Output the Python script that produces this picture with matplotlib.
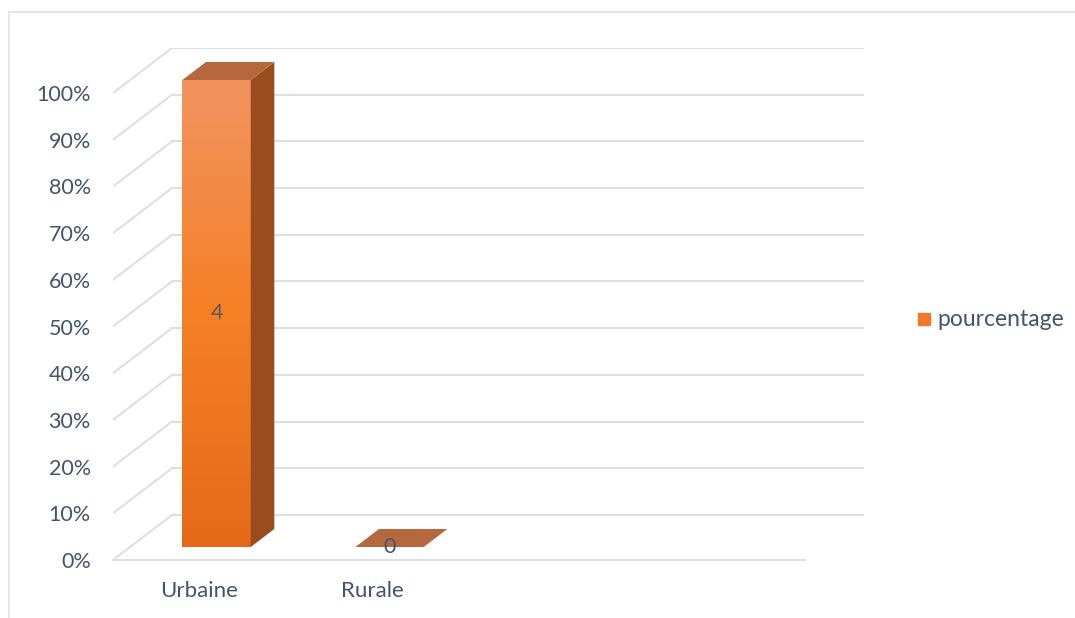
import numpy as np
import matplotlib.pyplot as plt
from matplotlib.patches import Polygon
from matplotlib.colors import LinearSegmentedColormap

categories = ['Urbaine', 'Rurale']
counts = [4, 0]
percents = [100, 0]
series_name = 'pourcentage'
yticks = list(range(0, 101, 10))
n_slots = 4  # excel keeps 4 category slots on the floor

plt.rcParams['font.family'] = ['Lato', 'DejaVu Sans']
txt_col = '#44546A'
grid_col = '#DCE0E5'

# fake 3d: depth offset in data units
dx, dy = 0.341, 9.64
f_front, f_back = 0.289, 0.689
bar_w = 0.395

fig = plt.figure(figsize=(10.75, 6.18), dpi=100)
# outer chart border
fig.add_artist(plt.Line2D([9/1075, 9/1075], [0, 1 - 12/618], color='#E3E6EA', lw=1.5))
fig.add_artist(plt.Line2D([9/1075, 1], [1 - 12/618, 1 - 12/618], color='#E3E6EA', lw=1.5))

ax = fig.add_axes([113/1075, 58/618, 751/1075, 512/618])
ax.set_xlim(0, n_slots + dx)
ax.set_ylim(0, 100 + dy)
for s in ax.spines.values():
    s.set_visible(False)

# back wall + side wall grid
for v in yticks:
    ax.plot([dx, n_slots + dx], [v + dy, v + dy], color=grid_col, lw=1.5, zorder=1)
    ax.plot([0, dx], [v, v + dy], color=grid_col, lw=1.5, zorder=1)
ax.plot([0, n_slots], [0, 0], color=grid_col, lw=1.5, zorder=1, clip_on=False)

grad = LinearSegmentedColormap.from_list('g', ['#E5691A', '#F58026', '#F29460'])
top_col = '#B5683E'
side_col = '#9A4C1F'

for i, (cat, p, c) in enumerate(zip(categories, percents, counts)):
    x0 = i + 0.5 - bar_w / 2 + f_front * dx
    x1 = x0 + bar_w
    y0 = f_front * dy
    y1 = y0 + p
    ddx = (f_back - f_front) * dx
    ddy = (f_back - f_front) * dy
    if p > 0:
        ax.imshow(np.linspace(0, 1, 256).reshape(-1, 1), cmap=grad, origin='lower',
                  extent=[x0, x1, y0, y1], aspect='auto', zorder=3)
        ax.add_patch(Polygon([[x1, y0], [x1 + ddx, y0 + ddy], [x1 + ddx, y1 + ddy], [x1, y1]],
                             closed=True, facecolor=side_col, edgecolor='none', zorder=3))
    ax.add_patch(Polygon([[x0, y1], [x1, y1], [x1 + ddx, y1 + ddy], [x0 + ddx, y1 + ddy]],
                         closed=True, facecolor=top_col, edgecolor='none', zorder=3))
    ly = y0 + p / 2 if p > 0 else y0
    ax.text((x0 + x1) / 2, ly, str(c), ha='center', va='center', fontsize=15.5,
            color='#595959' if p > 0 else txt_col, zorder=4)

ax.set_xticks([i + 0.5 for i in range(len(categories))])
ax.set_xticklabels(categories)
ax.set_yticks(yticks)
ax.set_yticklabels([f'{v}%' for v in yticks])
ax.tick_params(axis='y', length=0, pad=16, labelsize=15.5, labelcolor=txt_col)
ax.tick_params(axis='x', length=0, pad=15, labelsize=16, labelcolor=txt_col)

# legend
fig.add_artist(plt.Rectangle((918/1075, 1 - 325/618), 12/1075, 12/618, color='#F07A2A'))
fig.text(937/1075, 1 - 319/618, series_name, fontsize=16.5, color=txt_col, va='center', ha='left')

fig.savefig('out.png', dpi=100)
